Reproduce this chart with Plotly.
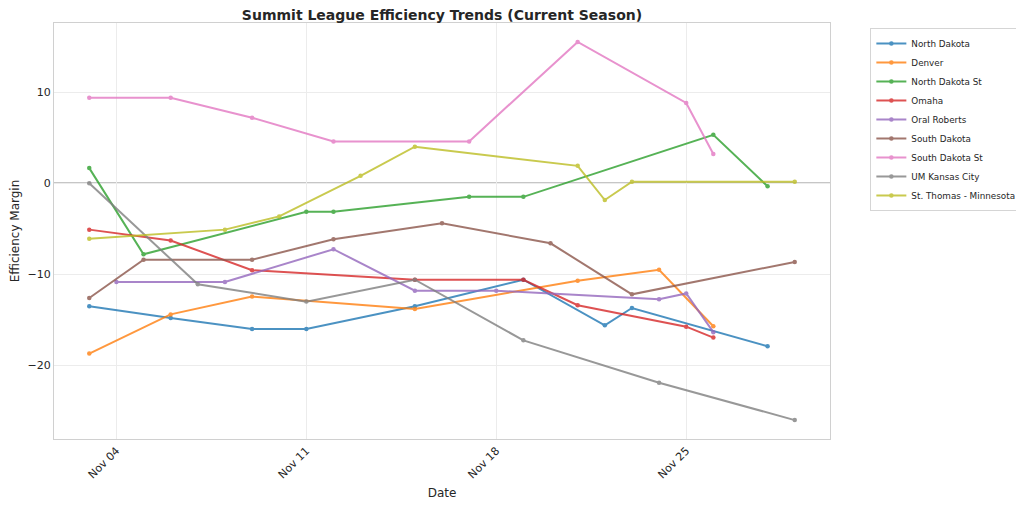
import plotly.graph_objects as go
import pandas as pd

YEAR_MONTH = "2024-11-"

teams = ["North Dakota", "Denver", "North Dakota St", "Omaha", "Oral Roberts",
         "South Dakota", "South Dakota St", "UM Kansas City", "St. Thomas - Minnesota"]
colors = ["#1f77b4", "#ff7f0e", "#2ca02c", "#d62728", "#9467bd",
          "#8c564b", "#e377c2", "#7f7f7f", "#bcbd22"]

north_dakota_days = [3, 6, 9, 11, 15, 19, 22, 23, 28]
north_dakota_vals = [-13.5, -14.8, -16.0, -16.0, -13.5, -10.6, -15.6, -13.7, -17.9]

denver_days = [3, 6, 9, 15, 21, 24, 26]
denver_vals = [-18.7, -14.4, -12.45, -13.8, -10.7, -9.5, -15.7]

nd_state_days = [3, 5, 11, 12, 17, 19, 26, 28]
nd_state_vals = [1.65, -7.8, -3.15, -3.15, -1.5, -1.5, 5.3, -0.35]

omaha_days = [3, 6, 9, 15, 19, 21, 25, 26]
omaha_vals = [-5.1, -6.3, -9.55, -10.6, -10.6, -13.4, -15.75, -16.95]

oral_roberts_days = [4, 8, 12, 15, 18, 24, 25, 26]
oral_roberts_vals = [-10.85, -10.85, -7.25, -11.8, -11.8, -12.75, -12.1, -16.35]

south_dakota_days = [3, 5, 9, 12, 16, 20, 23, 29]
south_dakota_vals = [-12.6, -8.4, -8.4, -6.15, -4.4, -6.6, -12.2, -8.65]

sd_state_days = [3, 6, 9, 12, 17, 21, 25, 26]
sd_state_vals = [9.37, 9.37, 7.18, 4.58, 4.58, 15.5, 8.8, 3.2]

umkc_days = [3, 7, 11, 15, 19, 24, 29]
umkc_vals = [0.0, -11.1, -13.0, -10.6, -17.25, -21.9, -26.0]

st_thomas_days = [3, 8, 10, 13, 15, 21, 22, 23, 29]
st_thomas_vals = [-6.1, -5.1, -3.65, 0.8, 4.0, 1.9, -1.85, 0.15, 0.15]

series_days = [north_dakota_days, denver_days, nd_state_days, omaha_days, oral_roberts_days,
               south_dakota_days, sd_state_days, umkc_days, st_thomas_days]
series_vals = [north_dakota_vals, denver_vals, nd_state_vals, omaha_vals, oral_roberts_vals,
               south_dakota_vals, sd_state_vals, umkc_vals, st_thomas_vals]

tick_days = [4, 11, 18, 25]
tick_labels = ["Nov 04", "Nov 11", "Nov 18", "Nov 25"]

def to_date(d):
    return pd.Timestamp(f"{YEAR_MONTH}{d:02d}")

fig = go.Figure()
for name, col, days, vals in zip(teams, colors, series_days, series_vals):
    fig.add_trace(go.Scatter(
        x=[to_date(d) for d in days], y=vals, name=name,
        mode="lines+markers",
        line=dict(color=col, width=2),
        marker=dict(color=col, size=4.5),
        opacity=0.8,
    ))

all_days = [to_date(d) for ds in series_days for d in ds]
all_vals = [v for vs in series_vals for v in vs]
xmin, xmax = min(all_days), max(all_days)
xpad = (xmax - xmin) * 0.05
ymin, ymax = min(all_vals), max(all_vals)
ypad = (ymax - ymin) * 0.05

fig.add_shape(type="line", xref="paper", x0=0, x1=1, yref="y", y0=0, y1=0,
              line=dict(color="#5a5a5a", width=1), layer="between")

font_family = "DejaVu Sans"
fig.update_layout(
    width=1016, height=499,
    margin=dict(l=46, r=194, t=15, b=68, autoexpand=False),
    paper_bgcolor="white", plot_bgcolor="white",
    font=dict(family=font_family, color="#262626", size=11),
    title=dict(text="<b>Summit League Efficiency Trends (Current Season)</b>",
               x=0.5, xref="paper", xanchor="center", y=1.0, yref="container", yanchor="top",
               pad=dict(t=2, b=0, l=0, r=0),
               font=dict(size=14, color="#262626")),
    showlegend=True,
    legend=dict(x=1.052, y=0.988, xanchor="left", yanchor="top",
                bordercolor="#d5d5d5", borderwidth=1, bgcolor="white",
                itemwidth=30,
                font=dict(size=8.8, color="#262626")),
    xaxis=dict(
        type="date", automargin=False,
        range=[xmin - xpad, xmax + xpad],
        tickvals=[to_date(d) for d in tick_days], ticktext=tick_labels,
        tickangle=-45, showgrid=True, gridcolor="#ececec", gridwidth=1,
        showline=True, linecolor="#d0d0d0", mirror=True, zeroline=False,
        ticks="", tickfont=dict(size=11),
        title=dict(text="Date", font=dict(size=12), standoff=8),
    ),
    yaxis=dict(
        automargin=False,
        range=[ymin - ypad, ymax + ypad],
        tickvals=[-20, -10, 0, 10],
        showgrid=True, gridcolor="#ececec", gridwidth=1,
        showline=True, linecolor="#d0d0d0", mirror=True, zeroline=False,
        ticks="", tickfont=dict(size=11),
        title=dict(text="Efficiency Margin", font=dict(size=12), standoff=8),
    ),
)

fig.write_html("out.html")
